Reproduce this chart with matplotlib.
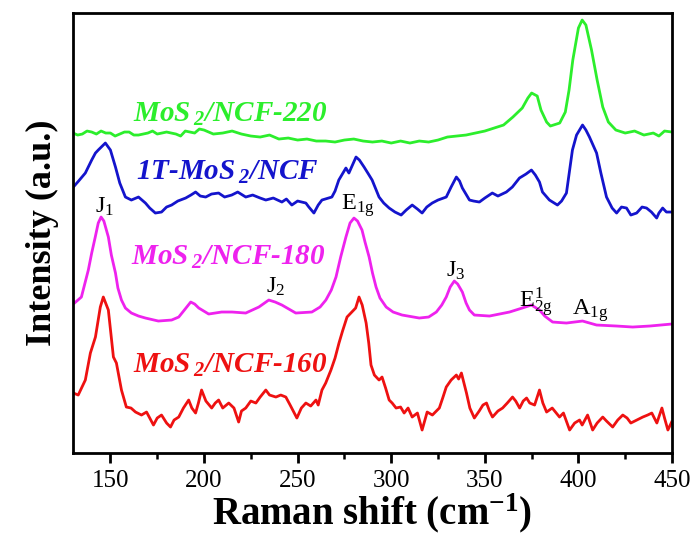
import numpy as np
import matplotlib
matplotlib.use("Agg")
import matplotlib.pyplot as plt

plt.rcParams['font.family'] = ['Liberation Serif', 'DejaVu Serif']
plt.rcParams['mathtext.fontset'] = 'custom'
plt.rcParams['mathtext.rm'] = 'Liberation Serif'
plt.rcParams['mathtext.it'] = 'Liberation Serif:italic'
plt.rcParams['mathtext.bf'] = 'Liberation Serif:bold'
plt.rcParams['mathtext.bfit'] = 'Liberation Serif:italic:bold'

# Raman spectra (arbitrary intensity units, curves stacked with offsets)
x_220 = [130, 132.5, 135, 137.5, 140, 142.5, 145, 147.5, 150, 152.5, 155, 157.5, 160, 162.5, 165, 170,
         172.5, 175, 180, 185, 187.5, 190, 195, 197.5, 200, 205, 210, 215, 220, 225, 230, 235, 240,
         245, 250, 255, 260, 265, 270, 275, 280, 285, 290, 295, 300, 305, 310, 315, 320, 325, 330,
         335, 340, 345, 350, 355, 360, 365, 370, 373, 375, 378, 380, 383, 385, 390, 393, 395, 397,
         400, 402, 404, 407, 410, 413, 416, 420, 425, 430, 435, 440, 443, 446, 450]
y_220 = [320, 318, 319, 322, 321, 319, 322, 320, 320, 317, 319, 321, 321, 318, 318, 320,
         322, 319, 321, 319, 317, 322, 320, 324, 323, 319, 320, 322, 319, 317, 316, 318, 314,
         315, 313, 314, 312, 312, 311, 313, 314, 312, 311, 312, 310, 312, 310, 312, 311, 313, 316,
         317, 318, 320, 322, 325, 328, 336, 345, 355, 360, 357, 343, 331, 327, 330, 341, 363, 393,
         425, 433, 428, 403, 373, 346, 331, 323, 320, 322, 318, 320, 317, 322, 321]

x_1t = [130.2, 133, 136.6, 140, 142, 143.5, 147.3, 150, 152.7, 155, 158, 161.2, 165, 168.7, 171, 174,
        177.3, 180, 182.7, 186, 190.2, 193, 195.5, 198, 200.9, 204, 207.8, 211, 214.8, 218, 222.3,
        226, 230, 233, 237, 241.6, 244, 246.9, 250, 254.4, 256, 258.7, 261, 263, 268.3, 270, 272,
        275.8, 277.4, 281.2, 283, 285.5, 287.5, 289.8, 293.5, 296, 298.9, 302, 305.3, 308, 311.2,
        314, 316.5, 319, 321.9, 325, 329.4, 332, 334.8, 336.5, 338, 341.8, 344, 347.1, 350, 354,
        357, 361.5, 364.7, 368.5, 372, 374.9, 377, 379.2, 380.8, 384.5, 388.8, 391, 393.6, 396.8,
        399, 402.2, 404, 405.9, 409.7, 412, 415, 418, 420.4, 423, 425.7, 428, 431.1, 434, 436.4,
        439, 441.8, 443, 445, 447, 449.8]
y_1t = [266, 272, 280, 293, 300, 303, 310, 303, 286, 270, 256, 253, 256, 250, 245, 240,
        241, 246, 248, 252, 255, 258, 261, 257, 256, 259, 260, 256, 258, 261, 256,
        258, 255, 253, 255, 251, 254, 248, 252, 250, 246, 240, 248, 253, 256, 262, 273,
        285, 280, 296, 293, 286, 280, 273, 256, 250, 245, 241, 238, 243, 248,
        244, 240, 246, 250, 253, 256, 266, 276, 272, 265, 253, 252, 251, 255, 260,
        257, 261, 266, 275, 279, 283, 278, 271, 261, 253, 248, 252, 260, 303,
        318, 328, 323, 316, 300, 280, 256, 245, 240, 246, 245, 238, 240, 246, 245,
        241, 235, 240, 245, 241, 241]

x_180 = [130.2, 134.5, 138.2, 140, 141.9, 143.5, 145, 146.5, 148.9, 150.5, 152.7, 154, 155.9, 158,
         161.2, 165, 168.7, 175.6, 182.7, 186.5, 189.5, 192.9, 195, 197.2, 202.5, 209.4, 215, 222.3,
         229.3, 234.6, 238, 241.6, 249, 257.6, 262, 265.1, 268, 270.5, 273, 275.8, 278, 280.1, 282,
         284.4, 286, 288.2, 290, 291.9, 294, 297.3, 301, 305.8, 315, 320, 324.1, 327, 329.4, 331.5,
         333.7, 335.5, 338, 340, 341.8, 344.4, 352.5, 363.2, 370, 374.9, 379.2, 382, 386.2, 393.6,
         402.2, 409.7, 420.4, 429, 438.1, 449.8]
y_180 = [149, 156, 183, 200, 216, 230, 236, 232, 216, 198, 180, 165, 153, 145,
         140, 137, 135, 132, 133, 136, 143, 151, 149, 145, 139, 141, 141, 140,
         146, 153, 151, 148, 140, 141, 146, 153, 163, 176, 196, 216, 230, 235, 232,
         223, 211, 196, 180, 166, 155, 146, 141, 138, 135, 136, 141, 148, 156, 166,
         172, 169, 161, 150, 143, 138, 137, 141, 145, 148, 143, 137, 131, 130,
         132, 128, 127, 126, 127, 129]

x_160 = [130.2, 132.8, 136.6, 139.3, 142, 144.6, 146.2, 148.9, 151.6, 153.2, 155.9, 158.5, 161, 163.4,
         166.6, 169.3, 171, 173, 175, 177.3, 180, 182.1, 184, 186.5, 189, 191.8, 193.5, 195.5, 197,
         198.7, 201, 204.1, 206, 207.8, 210, 213.2, 216, 218.5, 220, 222.3, 225, 227.7, 230, 233,
         235, 238.4, 241, 243.7, 246, 249.6, 252, 254.4, 257, 259.8, 261, 263, 265, 267.8, 270,
         272.1, 274, 276.4, 279, 281, 282.8, 284.5, 286.6, 288, 289.2, 291, 293.5, 295.1, 297, 298.9,
         300.5, 302.6, 305, 306.9, 309, 311.2, 314, 316.5, 319.2, 322, 325.7, 327.5, 329.4, 332,
         334.8, 336, 337.5, 340.2, 342, 344.4, 347, 349, 350.9, 352.5, 354.1, 357, 359.5, 362, 364.8,
         366.5, 368.6, 370.5, 372.3, 374, 376.6, 379.2, 381, 383, 386, 389.9, 392, 395.3, 398, 400.6,
         402, 404.9, 407.6, 410, 413, 415, 418.3, 421, 423.7, 426, 428, 431.2, 434.4, 437, 439.2,
         441.9, 444.6, 446, 447.8, 449.8]
y_160 = [60, 58, 73, 100, 116, 146, 156, 143, 96, 90, 63, 46, 45, 41,
         38, 41, 35, 28, 35, 38, 30, 26, 33, 36, 45, 53, 45, 40, 50,
         63, 52, 45, 50, 53, 45, 50, 45, 31, 42, 45, 52, 50, 56, 63,
         58, 56, 58, 56, 48, 35, 45, 50, 47, 53, 48, 63, 70, 83, 95,
         110, 122, 136, 141, 145, 156, 148, 130, 110, 88, 78, 73, 76, 65, 53,
         50, 45, 46, 40, 45, 36, 40, 23, 41, 38, 45, 55, 66, 73,
         78, 74, 80, 60, 45, 35, 42, 48, 50, 42, 36, 42, 45, 50, 56,
         52, 45, 52, 55, 50, 48, 63, 50, 41, 45, 36, 40, 23, 30, 33,
         28, 38, 23, 30, 36, 32, 26, 33, 38, 35, 30, 33, 36, 38, 40,
         30, 45, 35, 23, 31]

series = [
    (x_220, y_220, '#2cee2c', 'MoS$\\,_\\mathbfit{2}$/NCF-220', 162.3, 331),
    (x_1t, y_1t, '#1414cc', '1T-MoS$\\,_\\mathbfit{2}$/NCF', 163.4, 273),
    (x_180, y_180, '#ee22ee', 'MoS$\\,_\\mathbfit{2}$/NCF-180', 161.2, 188),
    (x_160, y_160, '#ee1111', 'MoS$\\,_\\mathbfit{2}$/NCF-160', 162.3, 80),
]

# peak annotations
peak_labels = ['J$_1$', 'E$_{\\rm 1g}$', 'J$_2$', 'J$_3$', 'E$_{\\rm 2g}^{\\rm 1}$', 'A$_{\\rm 1g}$']
peak_x = [142, 273.2, 233, 329.4, 368.5, 396.8]
peak_y = [240, 243, 160, 176, 146, 138]

fig = plt.figure(figsize=(6.99, 5.43), dpi=100)
ax = fig.add_axes([0.1044, 0.1657, 0.8570, 0.8103])

for xs, ys, col, name, tx, ty in series:
    ax.plot(xs, ys, color=col, lw=2.0)
    ax.text(tx, ty, name, color=col, fontsize=21, fontweight='bold', fontstyle='italic',
            ha='left', va='baseline')

for lab, px, py in zip(peak_labels, peak_x, peak_y):
    ax.text(px, py, lab, fontsize=17.5, color='black', ha='left', va='baseline')

ax.set_xlim(130, 450)
ax.set_ylim(0, 440)
ax.set_xticks([150, 200, 250, 300, 350, 400, 450])
ax.set_xticks([175, 225, 275, 325, 375, 425], minor=True)
ax.set_yticks([])
ax.tick_params(axis='x', which='major', direction='out', length=7, width=2, labelsize=18, pad=5)
ax.tick_params(axis='x', which='minor', direction='out', length=4, width=1.8)
for sp in ax.spines.values():
    sp.set_linewidth(2)

ax.set_xlabel('Raman shift (cm$^{\\mathbf{-1}}$)', fontsize=28, fontweight='bold', labelpad=0)
ax.set_ylabel('Intensity (a.u.)', fontsize=26, fontweight='bold', labelpad=10)

fig.savefig('out.png', dpi=100)
